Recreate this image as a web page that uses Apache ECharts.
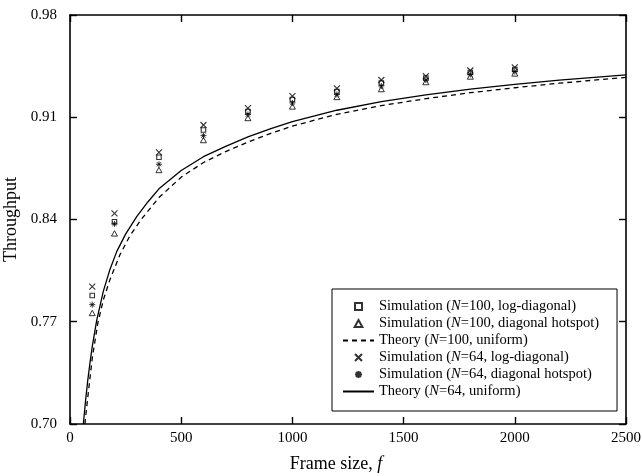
<!DOCTYPE html>
<html>
<head>
<meta charset="utf-8">
<script src="https://cdn.jsdelivr.net/npm/echarts/dist/echarts.min.js"></script>
<style>
  html, body { margin: 0; padding: 0; background: #fff; }
  #chart { width: 642px; height: 476px; }
</style>
</head>
<body>
<div id="chart"></div>
<script>
// Frame sizes at which the switch was simulated
const frameSizes = [100, 200, 400, 600, 800, 1000, 1200, 1400, 1600, 1800, 2000];

// Simulated throughput
const simN100LogDiagonal = [0.7880, 0.8385, 0.8826, 0.9013, 0.9139, 0.9222, 0.9276, 0.9334, 0.9369, 0.9406, 0.9427];
const simN100Hotspot     = [0.7760, 0.8305, 0.8739, 0.8944, 0.9095, 0.9174, 0.9239, 0.9293, 0.9341, 0.9379, 0.9400];
const simN64LogDiagonal  = [0.7940, 0.8442, 0.8860, 0.9047, 0.9163, 0.9245, 0.9297, 0.9355, 0.9382, 0.9420, 0.9442];
const simN64Hotspot      = [0.7817, 0.8370, 0.8778, 0.8974, 0.9119, 0.9198, 0.9256, 0.9314, 0.9355, 0.9393, 0.9413];

// Analytical curves under uniform traffic
const theoryFramesN100 = [67, 75, 85, 100, 125, 150, 180, 225, 270, 320, 400, 500, 600, 700, 800, 900, 1000, 1200, 1400, 1600, 1800, 2000, 2200, 2500];
const theoryN100       = [0.700, 0.7115, 0.725, 0.745, 0.769, 0.785, 0.799, 0.816, 0.829, 0.840, 0.855, 0.869, 0.879, 0.8865, 0.893, 0.8988, 0.9040, 0.9120, 0.9180, 0.9227, 0.9268, 0.9302, 0.9333, 0.9373];
const theoryFramesN64  = [60, 70, 80, 90, 100, 120, 150, 180, 210, 250, 300, 350, 400, 500, 600, 700, 800, 900, 1000, 1200, 1400, 1600, 1800, 2000, 2200, 2500];
const theoryN64        = [0.700, 0.716, 0.730, 0.742, 0.753, 0.771, 0.791, 0.806, 0.818, 0.830, 0.842, 0.852, 0.861, 0.8735, 0.883, 0.890, 0.8965, 0.902, 0.9070, 0.9148, 0.9207, 0.9253, 0.9292, 0.9325, 0.9354, 0.939];

// Axis ranges and ticks
const xMin = 0, xMax = 2500, xStep = 500;
const yMin = 0.70, yMax = 0.98, yStep = 0.07;

const seriesNames = [
  'Simulation (N=100, log-diagonal)',
  'Simulation (N=100, diagonal hotspot)',
  'Theory (N=100, uniform)',
  'Simulation (N=64, log-diagonal)',
  'Simulation (N=64, diagonal hotspot)',
  'Theory (N=64, uniform)'
];

const FONT = 'Liberation Serif';
const zip = (xs, ys) => xs.map((x, i) => [x, ys[i]]);

// Point shapes as paths so they keep their aspect in the legend
const squarePath = 'path://M0,0L10,0L10,10L0,10Z';
const trianglePath = 'path://M5,0L10,9L0,9Z';
const crossPath = 'path://M0,0L10,10M10,0L0,10';
const starPath = 'path://M5,0L5,10M0,5L10,5M1.5,1.5L8.5,8.5M8.5,1.5L1.5,8.5';

const axisLine = { show: true, onZero: false, lineStyle: { color: '#000', width: 1.6 } };
const axisTick = { show: true, inside: true, length: 7, lineStyle: { color: '#000', width: 1.4 } };

const chart = echarts.init(document.getElementById('chart'), null, { renderer: 'canvas' });

chart.setOption({
  animation: false,
  backgroundColor: '#fff',
  textStyle: { fontFamily: FONT, color: '#000' },
  grid: { left: 70, right: 16, top: 15, bottom: 52, containLabel: false, outerBoundsMode: 'none' },
  xAxis: [
    {
      type: 'value', min: xMin, max: xMax, interval: xStep, position: 'bottom',
      name: '{t|Frame size, }{i|f}',
      nameLocation: 'middle', nameGap: 31,
      nameTextStyle: {
        padding: [0, 24, 0, 0],
        rich: {
          t: { fontFamily: FONT, fontSize: 18, color: '#000' },
          i: { fontFamily: FONT, fontSize: 18, fontStyle: 'italic', color: '#000' }
        }
      },
      axisLine, axisTick,
      axisLabel: { color: '#000', fontFamily: FONT, fontSize: 15, margin: 7, formatter: v => String(v) },
      splitLine: { show: false }
    },
    {
      type: 'value', min: xMin, max: xMax, interval: xStep, position: 'top',
      axisLine, axisTick, axisLabel: { show: false }, splitLine: { show: false }
    }
  ],
  yAxis: [
    {
      type: 'value', min: yMin, max: yMax, interval: yStep, position: 'left',
      name: 'Throughput', nameLocation: 'middle', nameGap: 45,
      nameTextStyle: { fontFamily: FONT, fontSize: 18, color: '#000' },
      axisLine, axisTick,
      axisLabel: { color: '#000', fontFamily: FONT, fontSize: 15, margin: 13, formatter: v => v.toFixed(2) },
      splitLine: { show: false }
    },
    {
      type: 'value', min: yMin, max: yMax, interval: yStep, position: 'right',
      axisLine, axisTick, axisLabel: { show: false }, splitLine: { show: false }
    }
  ],
  legend: {
    orient: 'vertical',
    left: 332, top: 289,
    padding: [9, 18, 11, 10],
    itemWidth: 31, itemHeight: 7, itemGap: 0,
    symbolKeepAspect: true,
    borderColor: '#000', borderWidth: 1,
    backgroundColor: '#fff',
    selectedMode: false,
    data: seriesNames.map((name, i) => (i === 2 || i === 5)
      ? { name, itemStyle: { opacity: 0 } }
      : { name }),
    formatter: name => {
      const k = name.indexOf('N=');
      return '{t|' + name.slice(0, k) + '}{i|N}{t|' + name.slice(k + 1) + '}';
    },
    textStyle: {
      fontFamily: FONT, fontSize: 14.5, color: '#000', lineHeight: 17,
      rich: {
        t: { fontFamily: FONT, fontSize: 14.5, color: '#000', lineHeight: 17 },
        i: { fontFamily: FONT, fontSize: 14.5, fontStyle: 'italic', color: '#000', lineHeight: 17 }
      }
    }
  },
  series: [
    {
      name: seriesNames[0], type: 'scatter', data: zip(frameSizes, simN100LogDiagonal),
      symbol: squarePath, symbolSize: 4.5, symbolKeepAspect: true,
      itemStyle: { color: '#fff', borderColor: '#000', borderWidth: 1.1 }, z: 3
    },
    {
      name: seriesNames[1], type: 'scatter', data: zip(frameSizes, simN100Hotspot),
      symbol: trianglePath, symbolSize: 6, symbolKeepAspect: true,
      itemStyle: { color: '#fff', borderColor: '#000', borderWidth: 1 }, z: 3
    },
    {
      name: seriesNames[2], type: 'line', data: zip(theoryFramesN100, theoryN100),
      symbol: 'none', smooth: false,
      lineStyle: { color: '#000', width: 1.3, type: [5, 4] },
      itemStyle: { color: '#000' }, z: 2
    },
    {
      name: seriesNames[3], type: 'scatter', data: zip(frameSizes, simN64LogDiagonal),
      symbol: crossPath, symbolSize: 6, symbolKeepAspect: true,
      itemStyle: { color: '#000', borderColor: '#000', borderWidth: 1.1 }, z: 3
    },
    {
      name: seriesNames[4], type: 'scatter', data: zip(frameSizes, simN64Hotspot),
      symbol: starPath, symbolSize: 6, symbolKeepAspect: true,
      itemStyle: { color: '#000', borderColor: '#000', borderWidth: 1 }, z: 3
    },
    {
      name: seriesNames[5], type: 'line', data: zip(theoryFramesN64, theoryN64),
      symbol: 'none', smooth: false,
      lineStyle: { color: '#000', width: 1.3, type: 'solid' },
      itemStyle: { color: '#000' }, z: 2
    }
  ]
});
</script>
</body>
</html>
